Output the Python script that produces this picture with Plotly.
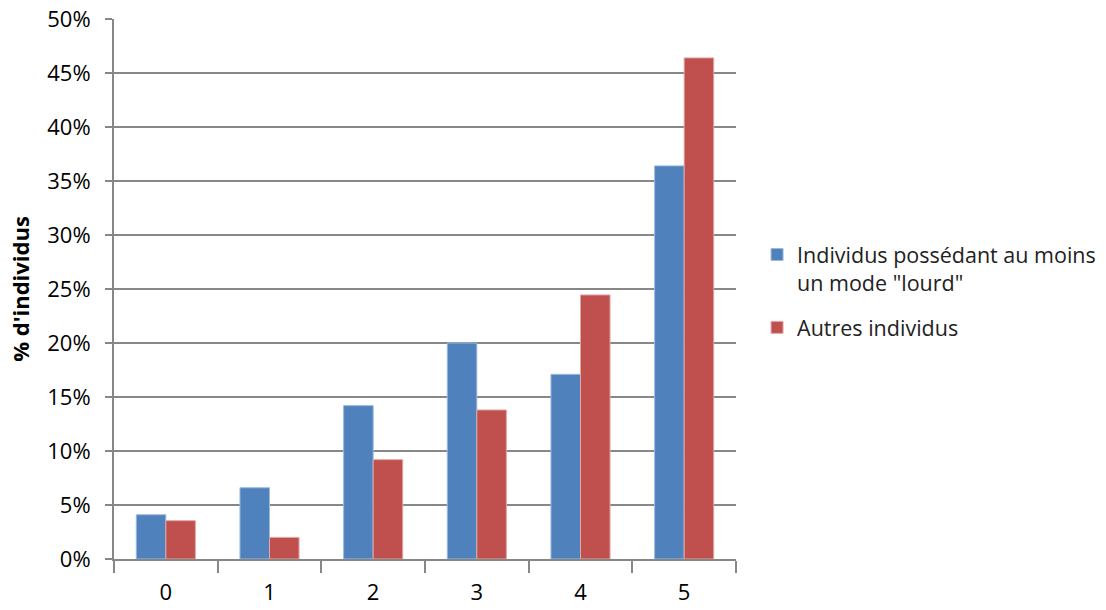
import plotly.graph_objects as go

categories = ["0", "1", "2", "3", "4", "5"]
heavy = [4.1, 6.6, 14.2, 20.0, 17.1, 36.4]
others = [3.55, 2.0, 9.2, 13.8, 24.45, 46.4]
series_names = ['Individus possédant au moins<br>un mode "lourd"', "Autres individus"]
y_ticks = [0, 5, 10, 15, 20, 25, 30, 35, 40, 45, 50]
y_labels = [f"{v}%" for v in y_ticks]

FONT = "Open Sans"
GRID = "#878787"

fig = go.Figure()
fig.add_trace(go.Bar(x=categories, y=heavy, name=series_names[0], legendgroup="g1",
                     marker=dict(color="#4F81BD", line=dict(color="#9DB9DD", width=1))))
fig.add_trace(go.Bar(x=categories, y=others, name=series_names[1], legendgroup="g2",
                     marker=dict(color="#C0504D", line=dict(color="#E0A8A6", width=1))))

fig.update_layout(
    width=1106, height=610, autosize=False,
    margin=dict(l=114, r=370, t=19, b=51),
    paper_bgcolor="white", plot_bgcolor="white",
    barmode="group", bargap=0.43, bargroupgap=0,
    font=dict(family=FONT, size=22, color="#000000"),
    legend=dict(xref="container", yref="container",
                x=0.6845, y=0.6164, xanchor="left", yanchor="top",
                font=dict(family=FONT, size=21.5, color="#222222"),
                valign="top", tracegroupgap=14, itemwidth=30,
                bgcolor="rgba(0,0,0,0)"),
    xaxis=dict(showline=True, linecolor=GRID, linewidth=2, automargin=False,
               ticks="outside", tickson="boundaries", ticklen=12, tickwidth=2,
               tickcolor=GRID, showgrid=False, zeroline=False,
               ticklabelstandoff=13,
               tickfont=dict(family=FONT, size=22), mirror=False),
    yaxis=dict(range=[0, 50], tickvals=y_ticks, ticktext=y_labels, automargin=False,
               showline=True, linecolor=GRID, linewidth=2,
               ticks="outside", ticklen=7, tickwidth=2, tickcolor=GRID,
               showgrid=True, gridcolor=GRID, gridwidth=2, zeroline=False,
               ticklabelstandoff=10,
               tickfont=dict(family=FONT, size=22),
               title=dict(text="<b>% d'individus</b>", font=dict(family=FONT, size=22),
                          standoff=12)),
)

fig.write_html(
    "out.html",
    config={"displayModeBar": False, "responsive": False},
    default_width="1106px", default_height="610px",
    post_script="document.body.style.margin='0px';document.body.style.overflow='hidden';",
)
